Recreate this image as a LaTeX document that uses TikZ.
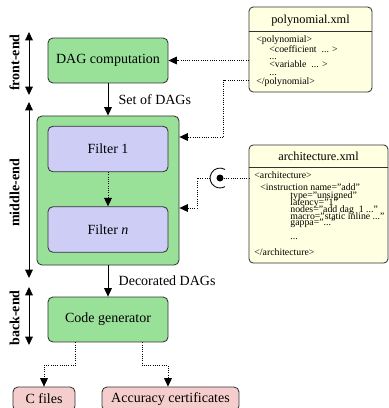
\documentclass[tikz,border=0pt]{standalone}
\usepackage{fontspec}
\setmainfont{Liberation Serif}
\usetikzlibrary{arrows.meta, positioning}
\definecolor{stagegreen}{RGB}{153,225,153}
\definecolor{filterblue}{RGB}{205,205,245}
\definecolor{outpink}{RGB}{245,205,205}
\definecolor{xmlcream}{RGB}{255,255,225}
\definecolor{edgegray}{RGB}{50,50,50}
\def\tip{Triangle[length=6pt, width=5.5pt]}
\newcommand{\xmlfont}{\fontsize{7}{4.8}\selectfont\setlength{\lineskiplimit}{-20pt}}
\tikzset{
    box/.style = {draw=edgegray, rounded corners=3.5pt, align=center, font=\fontsize{10}{12}\selectfont},
    stage/.style = {box, fill=stagegreen, minimum width=85.7pt, minimum height=32.1pt},
    filterbox/.style = {box, fill=filterblue, minimum width=85.7pt, minimum height=32.5pt},
    outbox/.style = {box, fill=outpink, minimum height=17.1pt},
    xmlbox/.style = {draw=edgegray, rounded corners=3pt, fill=xmlcream},
    xmltitle/.style = {font=\fontsize{8.8}{10}\selectfont, inner sep=0pt},
    xmlbody/.style = {font=\xmlfont, align=left, inner sep=0pt, anchor=north west},
    flow/.style = {-{\tip}},
    feed/.style = {densely dotted, -{\tip}},
    phase/.style = {{\tip}-{\tip}},
    phaselabel/.style = {rotate=90, font=\fontsize{10}{12}\selectfont\bfseries}
}

\begin{document}
\begin{tikzpicture}[x=0.714pt, y=-0.714pt, line width=0.6pt]
    \useasboundingbox (0,0) rectangle (389,408);
    % Fasi a sinistra
    \draw[phase] (29,32) coordinate (feTop) -- (29,95) coordinate (feBot);
    \node[phaselabel] (feLabel) at (14.5,62.5) {front-end};
    \draw[phase] (29,102) coordinate (meTop) -- (29,278) coordinate (meBot);
    \node[phaselabel] (meLabel) at (14.5,193) {middle-end};
    \draw[phase] (29,287) coordinate (beTop) -- (29,345) coordinate (beBot);
    \node[phaselabel] (beLabel) at (14.5,318) {back-end};
    % Blocchi principali
    \node[stage] (dag) at (108,60.5) {DAG computation};
    \node[stage, minimum width=101.4pt, minimum height=106.4pt] (mid) at (108,190.5) {};
    \node[filterbox] (filterOne) at (108,149) {Filter 1};
    \node[filterbox] (filterN) at (108,229.5) {Filter \textit{n}};
    \node[stage] (gen) at (108,319.5) {Code generator};
    % Uscite
    \node[outbox, minimum width=44.3pt] (cfiles) at (44,399) {C files};
    \node[outbox, minimum width=97.8pt] (acc) at (170.5,399) {Accuracy certificates};
    % Frecce principali
    \draw[flow] (dag) -- node[right=4pt, font=\fontsize{10}{12}\selectfont] (setLabel) {Set of DAGs} (mid);
    \draw[feed] (filterOne) -- (filterN);
    \draw[flow] (mid) -- node[right=4pt, font=\fontsize{10}{12}\selectfont] (decLabel) {Decorated DAGs} (gen);
    \draw[feed] (gen.south -| cfiles.east) -- ++(0,23) -| (cfiles.north);
    \draw[feed] ([xshift=24.3pt]gen.south) -- ++(0,23) -| ([xshift=-1.8pt]acc.north);
    % polynomial.xml
    \node[xmlbox, minimum width=87.8pt, minimum height=60.7pt] (poly) at (310.5,49.5) {};
    \draw[edgegray] (poly.west |- 0,31.5) -- (poly.east |- 0,31.5);
    \node[xmltitle] (polyTitle) at (310.5,20.5) {polynomial.xml};
    \node[xmlbody] (polyBody) at (256,35) {<polynomial>\\[2.6pt]
        \hspace*{9.3pt}<coefficient\ \ ... >\\[0.4pt]
        \hspace*{9.3pt}...\\[0.9pt]
        \hspace*{9.3pt}<variable\ \ ... >\\[0.7pt]
        \hspace*{9.3pt}...\\[1.8pt]
        </polynomial>};
    \draw[feed] (dag.east -| poly.west) -- (dag.east);
    \coordinate (polyOut) at (poly.west |- 0,80);
    \draw[feed] (polyOut) -- ++(-25,0) |- (mid.east |- 0,137);
    % architecture.xml
    \node[xmlbox, minimum width=99.2pt, minimum height=84.3pt] (arch) at (318.5,204) {};
    \draw[edgegray] (arch.west |- 0,167) -- (arch.east |- 0,167);
    \node[xmltitle] (archTitle) at (318.5,156) {architecture.xml};
    \node[xmlbody] (archBody) at (254,171.3) {<architecture>\\[3.8pt]
        \hspace*{4.3pt}<instruction name="add"\\[1.2pt]
        \hspace*{25.7pt}type="unsigned"\\
        \hspace*{25.7pt}latency="1"\\
        \hspace*{25.7pt}nodes="add dag\ \ 1 ..."\\
        \hspace*{25.7pt}macro="static inline ..."\\
        \hspace*{25.7pt}gappa="..."\\[5.2pt]
        \hspace*{25.7pt}...\\[6.6pt]
        </architecture>};
    % Interfaccia (socket)
    \node[circle, fill=black, inner sep=0pt, minimum size=5pt] (ball) at (220,178) {};
    \draw (ball.center) ++(60:7.1pt) arc[start angle=60, end angle=300, radius=7.1pt];
    \coordinate (sockLeft) at ([xshift=-7.1pt]ball.center);
    \draw[densely dotted] (ball) -- (ball -| arch.west);
    \draw[feed] (sockLeft) -- ++(-13,0) |- (mid.east |- 0,208);
\end{tikzpicture}
\end{document}
